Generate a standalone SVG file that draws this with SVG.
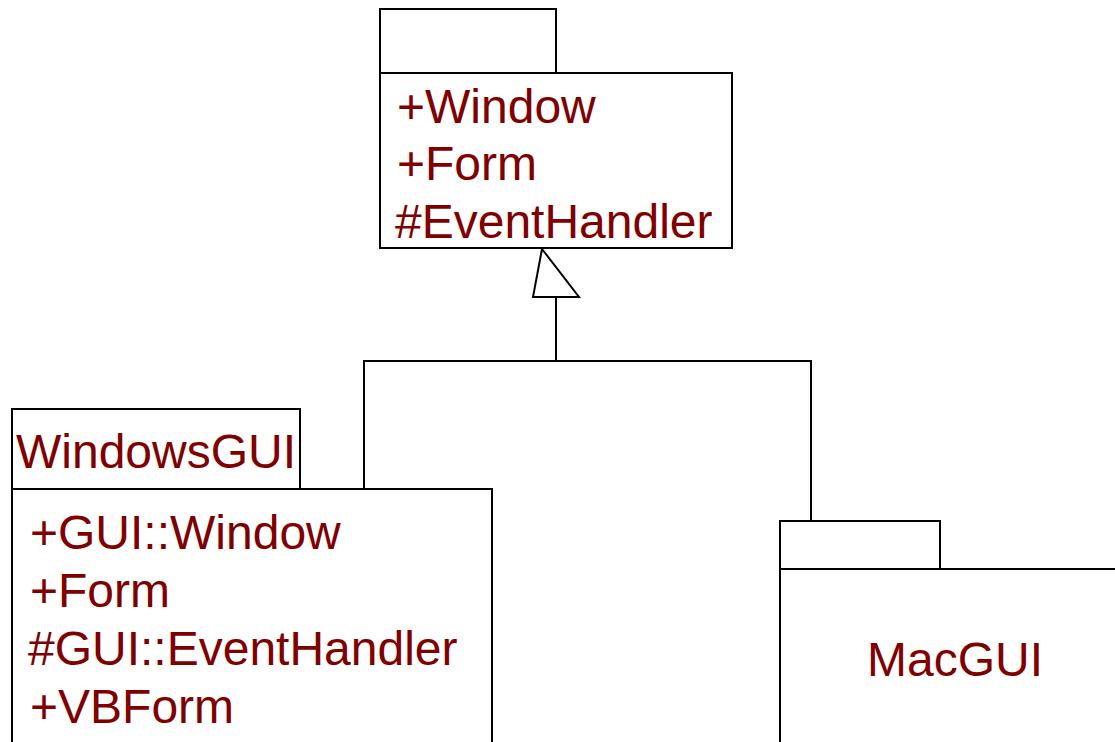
<svg xmlns="http://www.w3.org/2000/svg" width="1115" height="742" viewBox="0 0 1115 742">
  <style>
    .box { fill: #ffffff; stroke: #000000; stroke-width: 2; }
    .wire { fill: none; stroke: #000000; stroke-width: 2; }
    .head { fill: #ffffff; stroke: #000000; stroke-width: 2; stroke-linejoin: miter; }
    .lbl { font-family: "Liberation Sans", Arial, sans-serif; font-size: 48px; fill: #800000; }
  </style>
  <rect x="0" y="0" width="1115" height="742" fill="#ffffff"/>

  <!-- generalization connectors -->
  <g id="connectors">
    <polyline class="wire" points="364,489 364,361 811,361 811,521"/>
    <line class="wire" x1="556" y1="361" x2="556" y2="297"/>
    <polygon class="head" points="542,249 579,297 533,297"/>
  </g>

  <!-- GUI package -->
  <g id="gui">
    <rect class="box" x="380" y="9" width="176" height="64"/>
    <rect class="box" x="380" y="73" width="352" height="175"/>
    <text class="lbl" x="397" y="123">+Window</text>
    <text class="lbl" x="397" y="180">+Form</text>
    <text class="lbl" x="395" y="238">#EventHandler</text>
  </g>

  <!-- WindowsGUI package -->
  <g id="windowsgui">
    <rect class="box" x="12" y="409" width="288" height="80"/>
    <rect class="box" x="12" y="489" width="480" height="260"/>
    <text class="lbl" x="16" y="468">WindowsGUI</text>
    <text class="lbl" x="30" y="549">+GUI::Window</text>
    <text class="lbl" x="30" y="607">+Form</text>
    <text class="lbl" x="28" y="665">#GUI::EventHandler</text>
    <text class="lbl" x="30" y="723">+VBForm</text>
  </g>

  <!-- MacGUI package -->
  <g id="macgui">
    <rect class="box" x="780" y="521" width="160" height="48"/>
    <rect class="box" x="780" y="569" width="360" height="190"/>
    <text class="lbl" x="955" y="676" text-anchor="middle">MacGUI</text>
  </g>
</svg>
